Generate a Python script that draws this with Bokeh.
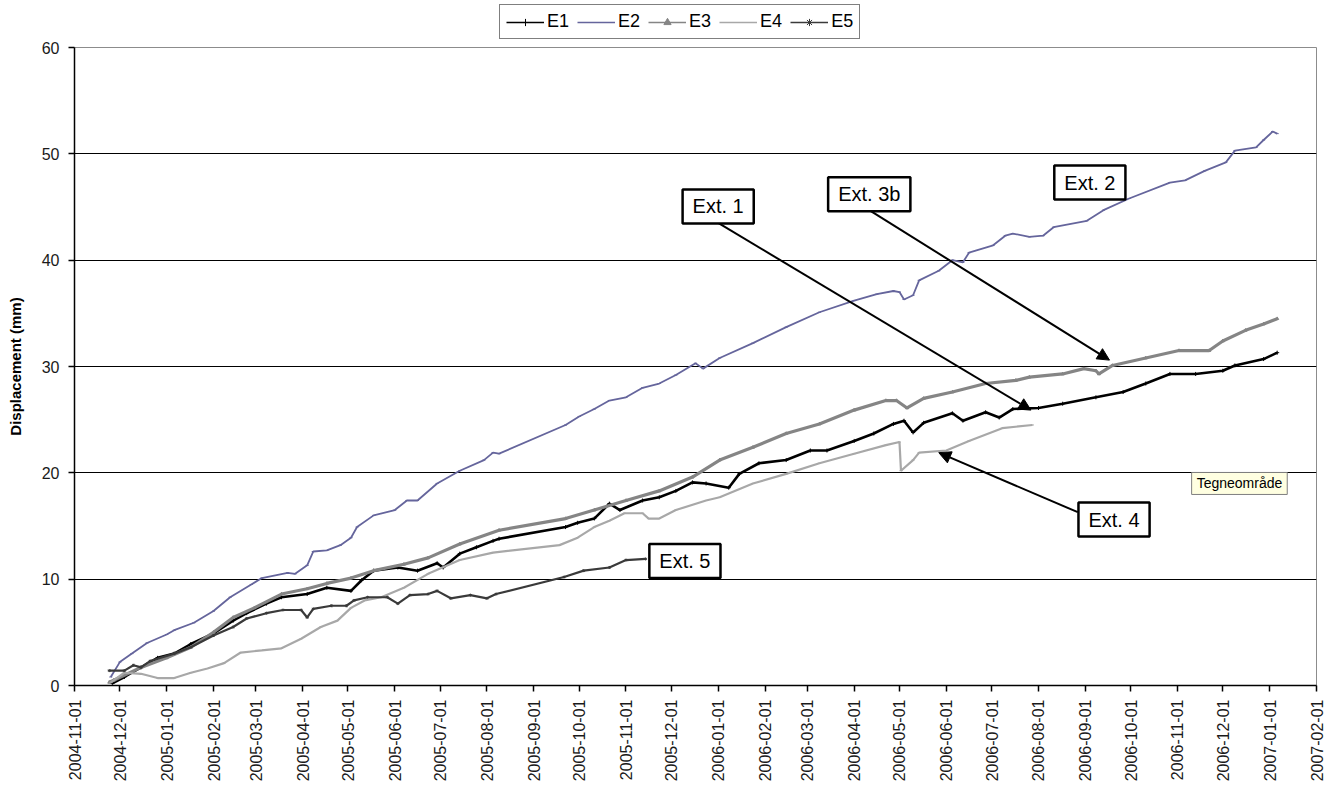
import pandas as pd
from datetime import datetime
from bokeh.plotting import figure
from bokeh.layouts import column
from bokeh.models import (Legend, LegendItem, Label, Arrow, NormalHead, DatetimeTickFormatter,
                          MonthsTicker, SingleIntervalTicker, Range1d)
from bokeh.embed import file_html
from bokeh.resources import INLINE

# ---------------- data ----------------
e1_dates = ["2004-11-26","2004-12-04","2004-12-15","2004-12-26","2005-01-06","2005-01-17","2005-02-01",
            "2005-02-14","2005-02-23","2005-03-08","2005-03-18","2005-04-04","2005-04-17","2005-05-03",
            "2005-05-10","2005-05-18","2005-06-03","2005-06-16","2005-06-29","2005-07-03","2005-07-14",
            "2005-07-25","2005-08-05","2005-08-09","2005-09-22","2005-09-30","2005-10-11","2005-10-21",
            "2005-10-28","2005-11-12","2005-11-23","2005-12-04","2005-12-15","2005-12-24","2006-01-08",
            "2006-01-15","2006-01-28","2006-02-15","2006-03-03","2006-03-14","2006-04-01","2006-04-14",
            "2006-04-27","2006-05-04","2006-05-10","2006-05-17","2006-06-05","2006-06-12","2006-06-27",
            "2006-07-06","2006-07-15","2006-08-01","2006-08-17","2006-09-08","2006-09-26","2006-10-11",
            "2006-10-27","2006-11-13","2006-12-01","2006-12-09","2006-12-28","2007-01-06"]
e1_vals = [0.2,0.8,1.7,2.6,3.0,3.9,4.9,6.1,6.8,7.7,8.3,8.6,9.2,8.9,9.9,10.8,11.1,10.8,11.5,11.1,
           12.4,13.0,13.6,13.8,14.9,15.3,15.7,17.1,16.5,17.4,17.7,18.3,19.1,19.0,18.6,19.9,20.9,21.2,
           22.1,22.1,23.0,23.7,24.6,24.9,23.8,24.7,25.6,24.9,25.7,25.2,26.0,26.1,26.5,27.1,27.6,28.4,
           29.3,29.3,29.6,30.1,30.7,31.3]

e2_dates = ["2004-11-25","2004-12-01","2004-12-09","2004-12-19","2005-01-01","2005-01-06","2005-01-19",
            "2005-02-01","2005-02-12","2005-02-26","2005-03-05","2005-03-22","2005-03-27","2005-04-04",
            "2005-04-08","2005-04-17","2005-04-26","2005-05-03","2005-05-07","2005-05-18","2005-06-01",
            "2005-06-09","2005-06-16","2005-06-29","2005-07-14","2005-07-30","2005-08-05","2005-08-09",
            "2005-09-22","2005-10-01","2005-10-11","2005-10-21","2005-11-01","2005-11-12","2005-11-23",
            "2005-12-04","2005-12-17","2005-12-22","2006-01-02","2006-01-24","2006-02-15","2006-03-09",
            "2006-04-01","2006-04-16","2006-04-27","2006-05-01","2006-05-04","2006-05-10","2006-05-14",
            "2006-05-27","2006-06-05","2006-06-12","2006-06-16","2006-07-02","2006-07-10","2006-07-15",
            "2006-07-26","2006-08-04","2006-08-11","2006-09-02","2006-09-13","2006-09-30","2006-10-27",
            "2006-11-06","2006-11-19","2006-12-03","2006-12-09","2006-12-23","2006-12-28","2007-01-03",
            "2007-01-06"]
e2_vals = [0.8,2.2,3.0,4.0,4.8,5.2,5.9,7.0,8.3,9.5,10.1,10.6,10.5,11.3,12.6,12.7,13.2,13.9,14.9,16.0,
           16.5,17.4,17.4,19.0,20.2,21.2,21.9,21.8,24.5,25.3,26.0,26.8,27.1,28.0,28.4,29.2,30.3,29.8,
           30.8,32.2,33.7,35.1,36.2,36.8,37.1,37.0,36.3,36.7,38.1,39.0,40.0,39.8,40.7,41.4,42.3,42.5,
           42.2,42.3,43.1,43.7,44.7,45.8,47.3,47.5,48.4,49.2,50.3,50.6,51.3,52.1,51.9]

e3_dates = ["2004-11-24","2004-11-27","2004-12-15","2005-01-01","2005-01-17","2005-02-01","2005-02-14",
            "2005-02-28","2005-03-18","2005-04-04","2005-04-17","2005-05-03","2005-05-18","2005-06-07",
            "2005-06-23","2005-07-14","2005-08-09","2005-09-22","2005-10-11","2005-11-01","2005-11-23",
            "2005-12-15","2006-01-02","2006-01-24","2006-02-15","2006-03-09","2006-04-01","2006-04-22",
            "2006-04-29","2006-05-06","2006-05-17","2006-06-05","2006-06-27","2006-07-17","2006-07-26",
            "2006-08-17","2006-08-31","2006-09-08","2006-09-10","2006-09-19","2006-10-11","2006-11-02",
            "2006-11-22","2006-12-01","2006-12-16","2006-12-28","2007-01-06"]
e3_vals = [0.3,0.5,1.7,2.6,3.6,5.0,6.4,7.3,8.6,9.1,9.6,10.1,10.8,11.4,12.0,13.3,14.6,15.7,16.5,17.4,
           18.3,19.6,21.2,22.4,23.7,24.6,25.9,26.8,26.8,26.1,27.0,27.6,28.4,28.7,29.0,29.3,29.8,29.6,
           29.3,30.1,30.8,31.5,31.5,32.4,33.4,34.0,34.5]

e4_dates = ["2004-11-25","2004-12-04","2004-12-15","2004-12-26","2005-01-06","2005-01-17","2005-01-28",
            "2005-02-08","2005-02-19","2005-03-05","2005-03-18","2005-03-31","2005-04-13","2005-04-24",
            "2005-05-03","2005-05-12","2005-05-23","2005-06-07","2005-06-23","2005-07-14","2005-08-05",
            "2005-09-18","2005-09-30","2005-10-11","2005-10-21","2005-10-31","2005-11-12","2005-11-16",
            "2005-11-23","2005-12-04","2005-12-24","2006-01-02","2006-01-24","2006-02-15","2006-03-09",
            "2006-04-01","2006-04-22","2006-05-01","2006-05-02","2006-05-10","2006-05-14","2006-06-01",
            "2006-06-16","2006-07-08","2006-07-28"]
e4_vals = [0.3,1.2,1.1,0.7,0.7,1.2,1.6,2.1,3.1,3.3,3.5,4.4,5.5,6.1,7.3,8.0,8.3,9.2,10.5,11.8,12.5,
           13.2,13.9,14.9,15.5,16.2,16.2,15.7,15.7,16.5,17.4,17.7,19.0,19.9,20.9,21.8,22.6,22.9,20.2,
           21.2,21.9,22.1,23.0,24.2,24.5]

e5_dates = ["2004-11-24","2004-12-04","2004-12-10","2004-12-15","2004-12-21","2005-01-06","2005-01-17",
            "2005-02-01","2005-02-14","2005-02-23","2005-03-08","2005-03-19","2005-03-31","2005-04-04",
            "2005-04-08","2005-04-20","2005-04-30","2005-05-05","2005-05-14","2005-05-27","2005-06-03",
            "2005-06-11","2005-06-23","2005-06-29","2005-07-08","2005-07-21","2005-08-01","2005-08-07",
            "2005-09-21","2005-10-04","2005-10-21","2005-11-01","2005-11-14"]
e5_vals = [1.4,1.4,1.9,1.7,2.3,3.0,3.6,4.7,5.5,6.3,6.8,7.1,7.1,6.4,7.2,7.5,7.5,8.0,8.3,8.3,7.7,8.5,
           8.6,8.9,8.2,8.5,8.2,8.6,10.2,10.8,11.1,11.8,11.9]

series_names = ["E1", "E2", "E3", "E4", "E5"]
y_ticks_interval = 10

# annotation boxes: text, date, value
box_texts = ["Ext. 1", "Ext. 3b", "Ext. 2", "Ext. 4", "Ext. 5"]
box_dates = ["2006-01-01", "2006-04-11", "2006-09-04", "2006-09-20", "2005-12-10"]
box_vals = [45.05, 46.2, 47.3, 15.6, 11.7]
# arrows: start date/value -> end date/value
arrow_start_dates = ["2006-01-01", "2006-04-11", "2006-08-27"]
arrow_start_vals = [43.5, 44.7, 16.3]
arrow_end_dates = ["2006-07-27", "2006-09-17", "2006-05-27"]
arrow_end_vals = [25.9, 30.6, 21.9]

NAN = float("nan")


def ms(d):
    return pd.Timestamp(d).timestamp() * 1000.0


FONT = "'Liberation Sans', Arial, sans-serif"

styles = [
    dict(color="black", width=2.6, marker="cross", msize=4),
    dict(color="#65659c", width=1.8, marker="dash", msize=3),
    dict(color="#858585", width=3.2, marker="triangle", msize=3),
    dict(color="#a8a8a8", width=2.2, marker="dash", msize=3),
    dict(color="#3a3a3a", width=2.2, marker="asterisk", msize=3),
]

# ---------------- legend strip (separate small figure above the chart) ----------------
top = figure(width=1324, height=40, x_range=Range1d(0, 1), y_range=Range1d(0, 1),
             x_axis_type=None, y_axis_type=None, output_backend="svg", toolbar_location=None,
             min_border_left=74, min_border_right=8, min_border_top=0, min_border_bottom=0)
top.outline_line_color = None
top.grid.grid_line_color = None
items = []
for name, st in zip(series_names, styles):
    ln = top.line([NAN], [NAN], line_color=st["color"], line_width=1.4)
    sc = top.scatter([NAN], [NAN], marker=st["marker"], size=5, line_color=st["color"],
                     fill_color=st["color"], line_width=1)
    items.append(LegendItem(label=name, renderers=[ln, sc]))
legend = Legend(items=items, orientation="horizontal", location=(425, 1),
                label_text_font=FONT, label_text_font_size="18px", label_text_color="black",
                border_line_color="black", border_line_width=1.5, background_fill_alpha=1,
                glyph_width=38, glyph_height=18, label_standoff=3, spacing=8,
                padding=6, margin=0, label_height=19)
top.add_layout(legend)

# ---------------- main chart ----------------
p = figure(width=1324, height=746, x_axis_type="datetime",
           x_range=Range1d(datetime(2004, 11, 1), datetime(2007, 2, 1)),
           y_range=Range1d(0, 60), output_backend="svg", toolbar_location=None,
           min_border_left=74, min_border_top=7, min_border_bottom=101, min_border_right=8)

p.background_fill_color = "white"
p.border_fill_color = "white"
p.outline_line_color = "#8c8c8c"
p.outline_line_width = 1

p.xgrid.grid_line_color = None
p.ygrid.grid_line_color = "black"
p.ygrid.grid_line_width = 1

p.yaxis.ticker = SingleIntervalTicker(interval=y_ticks_interval, num_minor_ticks=0)
p.yaxis.axis_label = "Displacement (mm)"
p.yaxis.axis_label_text_font = "'Liberation Sans Narrow', 'Liberation Sans', Arial"
p.yaxis.axis_label_text_font_style = "bold"
p.yaxis.axis_label_text_font_size = "15px"
p.yaxis.axis_label_text_color = "black"
p.yaxis.axis_label_standoff = 15
p.yaxis.major_label_text_font = FONT
p.yaxis.major_label_text_font_size = "16px"
p.yaxis.major_label_text_color = "#1a1a1a"
p.yaxis.major_label_standoff = 9

p.xaxis.ticker = MonthsTicker(months=list(range(12)))
fmt = "%Y-%m-%d"
p.xaxis.formatter = DatetimeTickFormatter(years=fmt, months=fmt, days=fmt, hours=fmt,
                                          minutes=fmt, seconds=fmt, milliseconds=fmt,
                                          microseconds=fmt, hourmin=fmt, minsec=fmt)
p.xaxis.major_label_orientation = 3.14159265 / 2
p.xaxis.major_label_text_font = FONT
p.xaxis.major_label_text_font_size = "16px"
p.xaxis.major_label_text_color = "#1a1a1a"
p.xaxis.major_label_standoff = 8

for ax in (p.xaxis, p.yaxis):
    ax.axis_line_color = "black"
    ax.axis_line_width = 1.5
    ax.major_tick_line_color = "black"
    ax.major_tick_line_width = 1.5
    ax.major_tick_in = 0
    ax.major_tick_out = 6
    ax.minor_tick_line_color = None

all_dates = [e1_dates, e2_dates, e3_dates, e4_dates, e5_dates]
all_vals = [e1_vals, e2_vals, e3_vals, e4_vals, e5_vals]

for name, d, v, st in zip(series_names, all_dates, all_vals, styles):
    xs = pd.to_datetime(d)
    p.line(xs, v, line_color=st["color"], line_width=st["width"])
    p.scatter(xs, v, marker=st["marker"], size=st["msize"], line_color=st["color"],
              fill_color=st["color"], line_width=1)

for sd, sv, ed, ev in zip(arrow_start_dates, arrow_start_vals, arrow_end_dates, arrow_end_vals):
    p.add_layout(Arrow(end=NormalHead(size=12, fill_color="black", line_color="black"),
                       x_start=ms(sd), y_start=sv, x_end=ms(ed), y_end=ev,
                       line_color="black", line_width=2))

for t, d, v in zip(box_texts, box_dates, box_vals):
    p.add_layout(Label(x=ms(d), y=v, text=t, text_align="center", text_baseline="middle",
                       text_font=FONT, text_font_size="20px", text_color="black",
                       border_line_color="black", border_line_width=2.5,
                       background_fill_color="white", background_fill_alpha=1,
                       padding=(10, 6)))

p.add_layout(Label(x=ms("2006-12-12"), y=19.0, text="Tegneområde", text_align="center",
                   text_baseline="middle", text_font=FONT, text_font_size="14px",
                   text_color="black", border_line_color="#7f7f7f", border_line_width=1,
                   background_fill_color="#ffffe1", background_fill_alpha=1, padding=(5, 3)))

layout = column(top, p, spacing=0)
open("out.html", "w").write(file_html(layout, INLINE))
